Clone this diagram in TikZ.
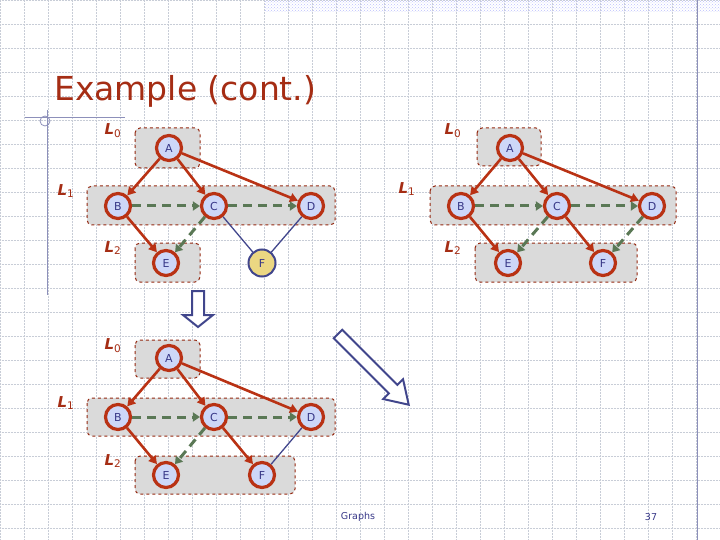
\documentclass[tikz,border=0pt]{standalone}
\usepackage{fontspec}
\setmainfont{DejaVu Sans}
\usetikzlibrary{arrows.meta,patterns}
\definecolor{rd}{RGB}{185,50,20}
\definecolor{tt}{RGB}{165,45,20}
\definecolor{nf}{RGB}{205,215,248}
\definecolor{nt}{RGB}{55,55,135}
\definecolor{gr}{RGB}{90,120,85}
\definecolor{bl}{RGB}{65,70,140}
\definecolor{bx}{RGB}{218,218,218}
\definecolor{yl}{RGB}{235,215,130}
\definecolor{gl}{RGB}{200,205,215}
\tikzset{
 vx/.style={circle,draw=rd,line width=3.2pt,fill=nf,text=nt,minimum size=25pt,inner sep=0pt,font=\fontsize{11}{11}\selectfont},
 fx/.style={circle,draw=bl,line width=2pt,fill=yl,text=nt,minimum size=27pt,inner sep=0pt,font=\fontsize{11}{11}\selectfont},
 lvl/.style={draw=rd!80!black,dashed,line width=1pt,fill=bx,rounded corners=5pt},
 lab/.style={font=\fontsize{15}{15}\selectfont\rmfamily,text=tt,inner sep=0pt},
 te/.style={draw=rd,line width=2.6pt,-{Triangle[length=8pt,width=9pt]}},
 be/.style={draw=gr,line width=3pt,dash pattern=on 9pt off 6pt,-{Triangle[length=7pt,width=9pt]}},
 cr/.style={draw=bl,line width=1.3pt},
 hollow/.style={draw=bl,line width=2pt,fill=white}
}
\newcommand{\Lab}[4]{\node[lab] (#1) at (#2,#3) {$\boldsymbol{L}_{#4}$};}
\usepackage{amsmath,bm}
\newcommand{\Lbl}[4]{\node[lab] (#1) at (#2,#3) {\textbf{\textit{L}}\textsubscript{\normalfont#4}};}
\begin{document}
\begin{tikzpicture}[x=1pt,y=-1pt]
\useasboundingbox (0,0) rectangle (720,540);
% grid
\foreach \i in {0,...,30} \draw[gl,densely dotted,line width=0.5pt] (\i*24,0) -- (\i*24,540);
\foreach \j in {0,...,23} \draw[gl,densely dotted,line width=0.5pt] (0,\j*24) -- (720,\j*24);
\fill[pattern=crosshatch dots,pattern color=nf!70!blue!60] (265,0) rectangle (720,12);
\draw[bl!60,line width=0.8pt] (697,0) -- (697,540);
\draw[bl!60,line width=0.8pt] (47,110) -- (47,295);
\draw[bl!60,line width=0.8pt] (25,117) -- (125,117);
\draw[bl!60,line width=0.8pt] (45,121) circle (5);
\node[anchor=base west,text=tt,font=\fontsize{33}{33}\selectfont,inner sep=0pt] (title) at (54,101) {Example (cont.)};
\node[font=\fontsize{9.5}{10}\selectfont,text=nt] (ft) at (358,517) {Graphs};
\node[font=\fontsize{9.5}{10}\selectfont,text=nt] (pg) at (651,517) {37};

% ---- graph 1
\fill[lvl] (135,128) rectangle (200,168);
\fill[lvl] (87,186) rectangle (335,225);
\fill[lvl] (135,243) rectangle (200,282);
\Lbl{l01}{113}{131}{0} \Lbl{l11}{66}{191}{1} \Lbl{l21}{113}{248}{2}
\node[vx] (a1) at (169,148) {A};
\node[vx] (b1) at (118,206) {B};
\node[vx] (c1) at (214,206) {C};
\node[vx] (d1) at (311,206) {D};
\node[vx] (e1) at (166,263) {E};
\node[fx] (f1) at (262,263) {F};
\draw[te] (a1) -- (b1); \draw[te] (a1) -- (c1); \draw[te] (a1) -- (d1); \draw[te] (b1) -- (e1);
\draw[be] (b1) -- (c1); \draw[be] (c1) -- (d1); \draw[be] (c1) -- (e1);
\draw[cr] (c1) -- (f1); \draw[cr] (d1) -- (f1);

% ---- graph 2
\fill[lvl] (477,128) rectangle (541,166);
\fill[lvl] (430,186) rectangle (676,225);
\fill[lvl] (475,243) rectangle (637,282);
\Lbl{l02}{453}{131}{0} \Lbl{l12}{407}{189}{1} \Lbl{l22}{453}{248}{2}
\node[vx] (a2) at (510,148) {A};
\node[vx] (b2) at (461,206) {B};
\node[vx] (c2) at (557,206) {C};
\node[vx] (d2) at (652,206) {D};
\node[vx] (e2) at (508,263) {E};
\node[vx] (f2) at (603,263) {F};
\draw[te] (a2) -- (b2); \draw[te] (a2) -- (c2); \draw[te] (a2) -- (d2); \draw[te] (b2) -- (e2); \draw[te] (c2) -- (f2);
\draw[be] (b2) -- (c2); \draw[be] (c2) -- (d2); \draw[be] (c2) -- (e2); \draw[be] (d2) -- (f2);

% ---- graph 3
\fill[lvl] (135,340) rectangle (200,378);
\fill[lvl] (87,398) rectangle (335,436);
\fill[lvl] (135,456) rectangle (295,494);
\Lbl{l03}{113}{346}{0} \Lbl{l13}{66}{403}{1} \Lbl{l23}{113}{461}{2}
\node[vx] (a3) at (169,358) {A};
\node[vx] (b3) at (118,417) {B};
\node[vx] (c3) at (214,417) {C};
\node[vx] (d3) at (311,417) {D};
\node[vx] (e3) at (166,475) {E};
\node[vx] (f3) at (262,475) {F};
\draw[te] (a3) -- (b3); \draw[te] (a3) -- (c3); \draw[te] (a3) -- (d3); \draw[te] (b3) -- (e3); \draw[te] (c3) -- (f3);
\draw[be] (b3) -- (c3); \draw[be] (c3) -- (d3); \draw[be] (c3) -- (e3);
\draw[cr] (d3) -- (f3);

% hollow arrows
\draw[hollow] (192,291) -- (204,291) -- (204,315) -- (213,315) -- (198,327) -- (183,315) -- (192,315) -- cycle;
\begin{scope}[shift={(338,334)},rotate=-45]
\draw[hollow] (0,-6) -- (78,-6) -- (78,-14) -- (100,0) -- (78,14) -- (78,6) -- (0,6) -- cycle;
\end{scope}
\end{tikzpicture}
\end{document}
